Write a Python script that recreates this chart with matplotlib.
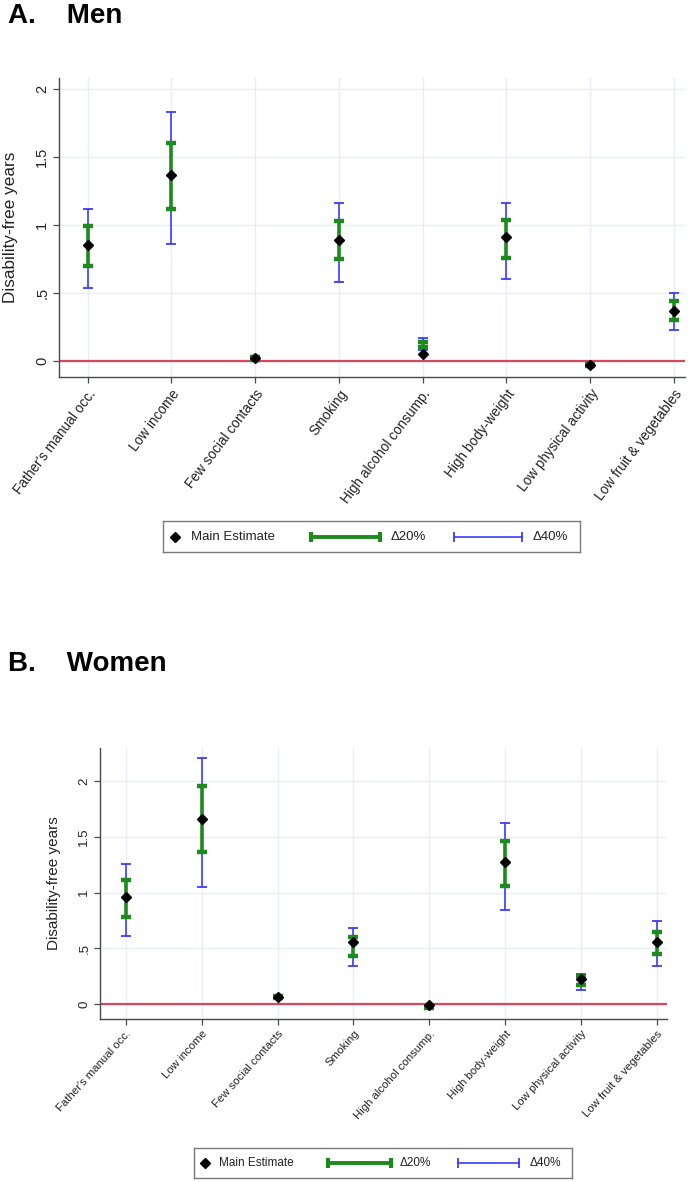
import matplotlib
matplotlib.use("Agg")
import matplotlib.pyplot as plt

plt.rcParams["font.family"] = ["Liberation Sans", "DejaVu Sans"]

categories = [
    "Father's manual occ.",
    "Low income",
    "Few social contacts",
    "Smoking",
    "High alcohol consump.",
    "High body-weight",
    "Low physical activity",
    "Low fruit & vegetables",
]

# Men: main estimate and sensitivity intervals (delta 20% / 40%)
men_est = [0.85, 1.37, 0.02, 0.89, 0.05, 0.91, -0.03, 0.37]
men_lo20 = [0.70, 1.12, 0.01, 0.75, 0.10, 0.76, -0.04, 0.30]
men_hi20 = [0.99, 1.60, 0.03, 1.03, 0.14, 1.04, -0.02, 0.44]
men_lo40 = [0.54, 0.86, 0.00, 0.58, 0.08, 0.60, -0.045, 0.23]
men_hi40 = [1.12, 1.83, 0.04, 1.16, 0.17, 1.16, -0.015, 0.50]

# Women
women_est = [0.96, 1.66, 0.06, 0.555, -0.005, 1.28, 0.22, 0.555]
women_lo20 = [0.78, 1.37, 0.05, 0.43, -0.04, 1.06, 0.17, 0.45]
women_hi20 = [1.11, 1.955, 0.075, 0.60, -0.03, 1.46, 0.25, 0.65]
women_lo40 = [0.61, 1.05, 0.045, 0.34, -0.045, 0.84, 0.13, 0.34]
women_hi40 = [1.26, 2.21, 0.085, 0.68, -0.02, 1.63, 0.27, 0.75]

ytick_vals = [0, 0.5, 1, 1.5, 2]
ytick_labels = ["0", ".5", "1", "1.5", "2"]

GREEN = "#1c8a1c"
BLUE = "#3b3bff"
ZERO = "#d9475f"
GRID = "#e6eff1"
SPINE = "#4a4a4a"

W, H = 688, 1182


def px_rect(x0, y0, x1, y1):
    return [x0 / W, 1 - y1 / H, (x1 - x0) / W, (y1 - y0) / H]


def draw_panel(ax, est, lo20, hi20, lo40, hi40, ylim, tick_fs, lab_fs, lab_rot,
               ylab_fs, ylab_x):
    x = list(range(len(categories)))
    mid40 = [(a + b) / 2 for a, b in zip(lo40, hi40)]
    err40 = [(b - a) / 2 for a, b in zip(lo40, hi40)]
    mid20 = [(a + b) / 2 for a, b in zip(lo20, hi20)]
    err20 = [(b - a) / 2 for a, b in zip(lo20, hi20)]

    ax.axhline(0, color=ZERO, lw=1.6, zorder=2)
    ax.errorbar(x, mid40, yerr=err40, fmt="none", ecolor=BLUE, elinewidth=1.2,
                capsize=3.3, capthick=1.3, zorder=3)
    ax.errorbar(x, mid20, yerr=err20, fmt="none", ecolor=GREEN, elinewidth=2.6,
                capsize=3.6, capthick=3.2, zorder=4)
    ax.plot(x, est, "D", color="black", ms=5.5, ls="none", zorder=5)

    ax.set_xlim(-0.342, 7.135)
    ax.set_ylim(*ylim)
    ax.set_xticks(x)
    ax.set_xticklabels(categories, rotation=lab_rot, ha="right", rotation_mode="anchor",
                       fontsize=lab_fs, color="#222")
    ax.set_yticks(ytick_vals)
    ax.set_yticklabels(ytick_labels, rotation=90, va="center", fontsize=tick_fs, color="#222")
    ax.set_ylabel("Disability-free years", fontsize=ylab_fs, color="#222")
    ax.yaxis.set_label_coords(ylab_x, 0.5)

    ax.grid(True, color=GRID, lw=1.0)
    ax.set_axisbelow(True)
    for s in ["top", "right"]:
        ax.spines[s].set_visible(False)
    for s in ["left", "bottom"]:
        ax.spines[s].set_color(SPINE)
        ax.spines[s].set_linewidth(1.0)
    ax.tick_params(axis="both", direction="out", length=4, width=0.9, color=SPINE)
    ax.tick_params(axis="y", pad=3)
    ax.tick_params(axis="x", pad=3)


def draw_key(fig, rect, fs):
    lg = fig.add_axes(rect)
    lg.set_xlim(0, 1)
    lg.set_ylim(0, 1)
    lg.set_xticks([])
    lg.set_yticks([])
    for s in lg.spines.values():
        s.set_color("#7a7a7a")
        s.set_linewidth(1.0)
    lg.plot([0.029], [0.5], "D", color="black", ms=5)
    lg.text(0.066, 0.5, "Main Estimate", fontsize=fs, va="center", color="#222")
    lg.plot([0.354, 0.520], [0.5, 0.5], color=GREEN, lw=2.8, marker="|", ms=7, mew=3)
    lg.text(0.545, 0.5, "\u039420%", fontsize=fs, va="center", color="#222")
    lg.plot([0.698, 0.860], [0.5, 0.5], color=BLUE, lw=1.2, marker="|", ms=7, mew=1.3)
    lg.text(0.887, 0.5, "\u039440%", fontsize=fs, va="center", color="#222")


fig = plt.figure(figsize=(W / 100, H / 100), dpi=100)

ax_m = fig.add_axes(px_rect(59, 78, 685, 377))
draw_panel(ax_m, men_est, men_lo20, men_hi20, men_lo40, men_hi40,
           ylim=(-0.118, 2.081), tick_fs=10.5, lab_fs=9.8, lab_rot=53,
           ylab_fs=12.3, ylab_x=-0.066)

ax_w = fig.add_axes(px_rect(100, 748, 667, 1019))
draw_panel(ax_w, women_est, women_lo20, women_hi20, women_lo40, women_hi40,
           ylim=(-0.135, 2.30), tick_fs=9.5, lab_fs=8.2, lab_rot=48,
           ylab_fs=11, ylab_x=-0.068)

draw_key(fig, px_rect(163, 521, 580, 552), 9.5)
draw_key(fig, px_rect(194, 1148, 572, 1178), 8.5)

fig.text(8 / W, 1 - 16 / H, "A.    Men", fontsize=20, fontweight="bold", va="center")
fig.text(8 / W, 1 - 664 / H, "B.    Women", fontsize=20, fontweight="bold", va="center")

fig.savefig("out.png", dpi=100)
